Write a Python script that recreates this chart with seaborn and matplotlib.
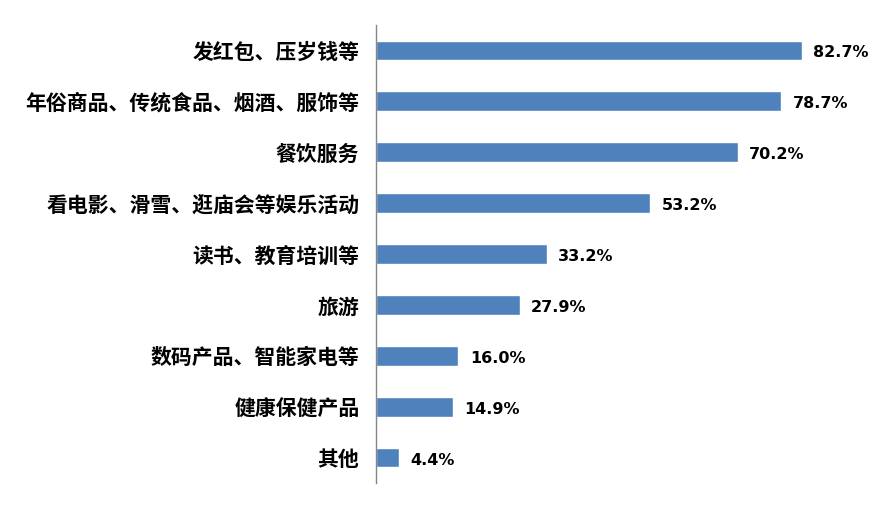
import matplotlib
matplotlib.use("Agg")
import matplotlib.pyplot as plt
import seaborn as sns
import pandas as pd

categories = ["发红包、压岁钱等", "年俗商品、传统食品、烟酒、服饰等", "餐饮服务",
              "看电影、滑雪、逛庙会等娱乐活动", "读书、教育培训等", "旅游",
              "数码产品、智能家电等", "健康保健产品", "其他"]
values = [82.7, 78.7, 70.2, 53.2, 33.2, 27.9, 16.0, 14.9, 4.4]
value_labels = ["82.7%", "78.7%", "70.2%", "53.2%", "33.2%", "27.9%", "16.0%", "14.9%", "4.4%"]

sns.set_style("white")
plt.rcParams['font.family'] = ['Noto Sans CJK SC', 'DejaVu Sans']

df = pd.DataFrame({"cat": categories, "val": values})

fig = plt.figure(figsize=(8.92, 5.07), dpi=100)
ax = fig.add_axes([376/892, 24/507, 510/892, 458/507])
sns.barplot(data=df, x="val", y="cat", color="#4F81BD", width=0.39, saturation=1, ax=ax)

ax.set_xlim(0, 99)
ax.set_ylim(8.5, -0.5)
ax.set_xlabel("")
ax.set_ylabel("")
ax.set_xticks([])
for s in ["top", "right", "bottom"]:
    ax.spines[s].set_visible(False)
ax.spines["left"].set_color("#868686")
ax.spines["left"].set_linewidth(1)
ax.tick_params(axis="y", length=0, pad=12)
for lab in ax.get_yticklabels():
    lab.set_fontsize(15)
    lab.set_fontweight("bold")
    lab.set_color("black")

for i, (v, t) in enumerate(zip(values, value_labels)):
    ax.text(v + 2.2, i + 0.05, t, va="center", ha="left", fontsize=11.5,
            fontweight="bold", family=["DejaVu Sans"], color="black")

fig.savefig("out.png", dpi=100)
